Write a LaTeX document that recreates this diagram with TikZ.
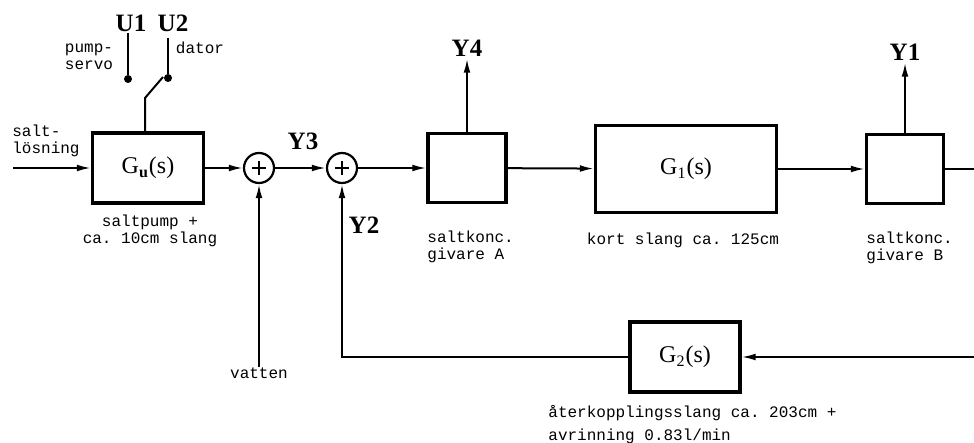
\documentclass[tikz,border=0pt]{standalone}
\usepackage{fontspec}
\setmainfont{Liberation Serif}
\setmonofont{Liberation Mono}
\usetikzlibrary{arrows.meta}

\begin{document}
\begin{tikzpicture}[
 x=0.5pt,y=-0.5pt,
 blk/.style={draw,line width=1.6pt,inner sep=0pt,font=\fontsize{12}{14}\selectfont},
 sum/.style={circle,draw,line width=1.1pt,minimum size=15pt,inner sep=0pt,
   path picture={\draw[line width=1.1pt]
     ([xshift=-3.6pt]path picture bounding box.center)--([xshift=3.6pt]path picture bounding box.center)
     ([yshift=-3.6pt]path picture bounding box.center)--([yshift=3.6pt]path picture bounding box.center);}},
 sig/.style={font=\bfseries\fontsize{12.5}{14}\selectfont,inner sep=1pt},
 note/.style={font=\ttfamily\fontsize{8}{8.5}\selectfont,inner sep=0pt},
 dot/.style={circle,fill,inner sep=0pt,minimum size=4pt},
 wire/.style={line width=1pt},
 flow/.style={-{Latex[length=7pt,width=3.4pt]},line width=1pt}
]
\useasboundingbox (0,0) rectangle (974,443);

% Pump and its control inputs.
\node[blk,minimum width=55.5pt,minimum height=35pt] (gu) at (148,168) {G\textsubscript{\textbf{u}}(s)};
\coordinate (saltsrc) at (13,168);
\draw[flow] (saltsrc) -- (gu);
\node[note,align=left] (saltlbl) at (46,141) {salt-\\lösning};
\node[note,align=center] (pumplbl) at (150,231) {saltpump +\\ca. 10cm slang};

\node[sig] (u1) at (131,23) {U1};
\node[sig] (u2) at (173,23) {U2};
\coordinate (u1top) at (128,33);
\coordinate (u2top) at (168,38);
\node[dot] (u1dot) at (128,79) {};
\node[dot] (u2dot) at (168,78) {};
\draw[wire] (u1top) -- (u1dot);
\draw[wire] (u2top) -- (u2dot);
\node[note,align=right] (servolbl) at (89,57) {pump-\\servo};
\node[note] (datorlbl) at (200,48) {dator};
% open switch
\coordinate (sw) at (145,98);
\coordinate (swtip) at (163,77);
\draw[wire] (sw |- gu.north) -- (sw) -- (swtip);

% Summation points.
\node[sum] (s1) at (259,168) {};
\node[sum] (s2) at (342,168) {};
\draw[flow] (gu) -- (s1);
\draw[flow] (s1) -- (s2);
\node[sig] (y3) at (303,141) {Y3};
\node[note] (vatten) at (259,373) {vatten};
\draw[flow] (vatten) -- (s1);
\node[sig] (y2) at (364,225) {Y2};

% Forward path.
\node[blk,minimum width=39pt,minimum height=34.5pt] (ga) at (467,168) {};
\node[blk,minimum width=90.5pt,minimum height=43.5pt] (g1) at (686,169) {G\textsubscript{1}(s)};
\node[blk,minimum width=38.5pt,minimum height=34.5pt] (gb) at (905,169) {};
\draw[flow] (s2) -- (ga);
\draw[flow] (ga) -- (g1);
\draw[flow] (g1) -- (gb);
\coordinate (outR) at (974,169);
\draw[wire] (gb) -- (outR);
\node[sig] (y4) at (467,48) {Y4};
\node[sig] (y1) at (905,52) {Y1};
\draw[flow] (ga) -- (y4);
\draw[flow] (gb) -- (y1);
\node[note,align=left,anchor=west] (alabel) at (427,247) {saltkonc.\\givare A};
\node[note] (g1label) at (683,240) {kort slang ca. 125cm};
\node[note,align=left,anchor=west] (blabel) at (866,248) {saltkonc.\\givare B};

% Feedback hose.
\node[blk,minimum width=55pt,minimum height=35pt] (g2) at (685,357) {G\textsubscript{2}(s)};
\coordinate (fbR) at (974,357);
\draw[flow] (fbR) -- (g2);
\draw[flow] (g2) -| (s2);
\node[note,align=left,anchor=north west] (g2label) at (548,405) {återkopplingsslang ca. 203cm +\\[3pt]avrinning 0.83l/min};
\end{tikzpicture}
\end{document}
